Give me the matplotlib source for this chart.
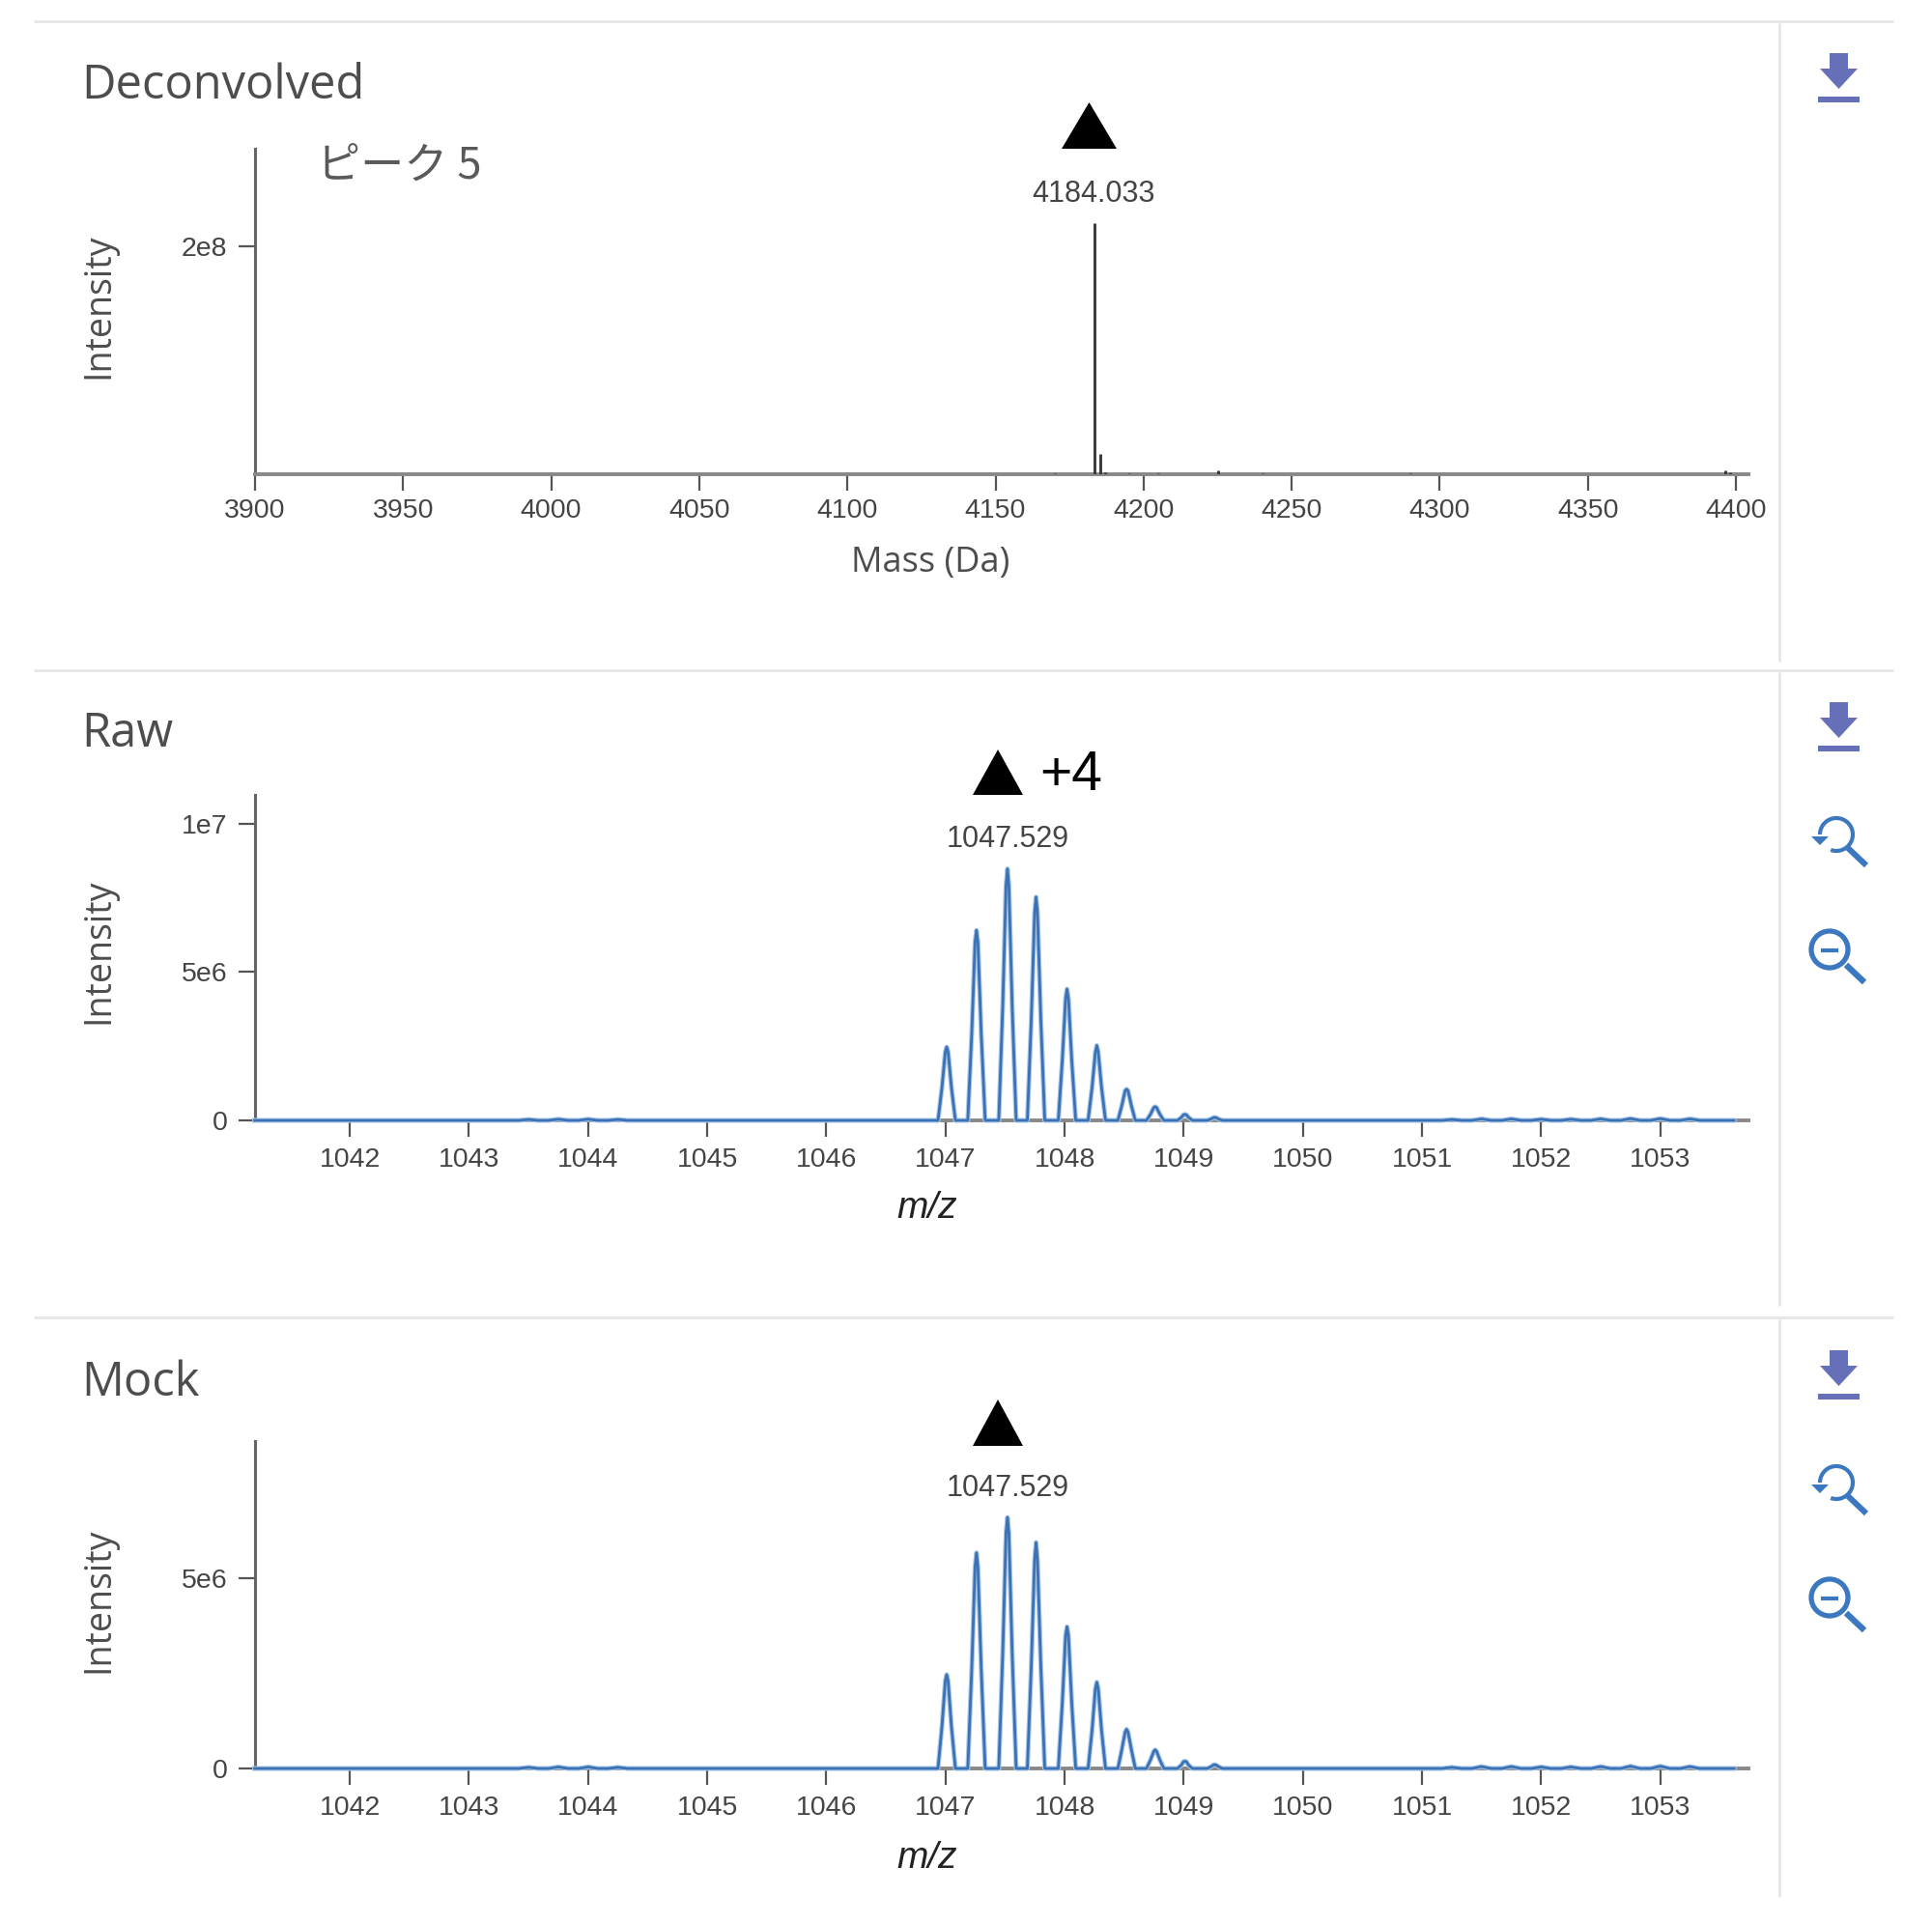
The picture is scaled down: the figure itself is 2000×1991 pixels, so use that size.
import numpy as np
import matplotlib
matplotlib.use('Agg')
from matplotlib import pyplot as plt
from matplotlib.patches import Polygon, Circle, Arc, Rectangle

W, H = 2000, 1991

# deconvolved spectrum
mass = [4170, 4183.5, 4185.5, 4187, 4195, 4205, 4225, 4240, 4290, 4396.5, 4398]
mass_int = [0.008e8, 2.195e8, 0.18e8, 0.02e8, 0.01e8, 0.01e8, 0.03e8, 0.008e8, 0.008e8, 0.03e8, 0.015e8]
mass_ticks = [3900, 3950, 4000, 4050, 4100, 4150, 4200, 4250, 4300, 4350, 4400]

# m/z trace, same sampling for raw and mock
mz_left = [1041.2, 1043.42, 1043.5, 1043.58, 1043.67, 1043.75, 1043.83, 1043.92, 1044.0, 1044.08, 1044.17, 1044.25, 1044.33]
int_left = [0, 0, 0.03e6, 0, 0, 0.04e6, 0, 0, 0.04e6, 0, 0, 0.03e6, 0]
mz_peaks = [
    1046.937, 1046.97, 1046.998, 1047.01, 1047.022, 1047.05, 1047.083,
    1047.187, 1047.22, 1047.248, 1047.26, 1047.272, 1047.30, 1047.333,
    1047.447, 1047.48, 1047.508, 1047.52, 1047.532, 1047.56, 1047.593,
    1047.687, 1047.72, 1047.748, 1047.76, 1047.772, 1047.80, 1047.833,
    1047.947, 1047.98, 1048.008, 1048.02, 1048.032, 1048.06, 1048.093,
    1048.197, 1048.23, 1048.258, 1048.27, 1048.282, 1048.31, 1048.343,
    1048.447, 1048.48, 1048.508, 1048.52, 1048.532, 1048.56, 1048.593,
    1048.687, 1048.72, 1048.748, 1048.76, 1048.772, 1048.80, 1048.833,
    1048.947, 1048.98, 1048.998, 1049.01, 1049.022, 1049.04, 1049.073,
    1049.197, 1049.23, 1049.248, 1049.26, 1049.272, 1049.29, 1049.323,
]
raw_peaks = [
    0, 1.1, 2.3, 2.47, 2.3, 1.1, 0,
    0, 2.9, 6.0, 6.40, 6.0, 2.9, 0,
    0, 3.8, 7.9, 8.47, 7.9, 3.8, 0,
    0, 3.4, 7.0, 7.52, 7.0, 3.4, 0,
    0, 2.0, 4.1, 4.42, 4.1, 2.0, 0,
    0, 1.1, 2.3, 2.52, 2.3, 1.1, 0,
    0, 0.5, 1.0, 1.05, 1.0, 0.5, 0,
    0, 0.2, 0.43, 0.46, 0.43, 0.2, 0,
    0, 0.1, 0.19, 0.20, 0.19, 0.1, 0,
    0, 0.05, 0.09, 0.10, 0.09, 0.05, 0,
]
mock_peaks = [
    0, 1.1, 2.3, 2.47, 2.3, 1.1, 0,
    0, 2.6, 5.3, 5.68, 5.3, 2.6, 0,
    0, 3.0, 6.2, 6.61, 6.2, 3.0, 0,
    0, 2.7, 5.5, 5.95, 5.5, 2.7, 0,
    0, 1.7, 3.5, 3.73, 3.5, 1.7, 0,
    0, 1.0, 2.1, 2.27, 2.1, 1.0, 0,
    0, 0.5, 0.96, 1.03, 0.96, 0.5, 0,
    0, 0.22, 0.45, 0.49, 0.45, 0.22, 0,
    0, 0.09, 0.18, 0.19, 0.18, 0.09, 0,
    0, 0.05, 0.09, 0.10, 0.09, 0.05, 0,
]
mz_right = [1049.33, 1051.17, 1051.25, 1051.33, 1051.42, 1051.5, 1051.58, 1051.67, 1051.75, 1051.83, 1051.92, 1052.0, 1052.08,
            1052.17, 1052.25, 1052.33, 1052.42, 1052.5, 1052.58, 1052.67, 1052.75, 1052.83, 1052.92, 1053.0, 1053.08, 1053.17, 1053.25, 1053.33, 1053.62]
int_right = [0, 0, 0.03e6, 0, 0, 0.05e6, 0, 0, 0.05e6, 0, 0, 0.04e6, 0,
             0, 0.04e6, 0, 0, 0.05e6, 0, 0, 0.06e6, 0, 0, 0.06e6, 0, 0, 0.05e6, 0, 0]
mz_ticks = [1042, 1043, 1044, 1045, 1046, 1047, 1048, 1049, 1050, 1051, 1052, 1053]

mz = np.array(mz_left + mz_peaks + mz_right)
raw = np.array(int_left + [v * 1e6 for v in raw_peaks] + int_right)
mock = np.array(int_left + [v * 1e6 for v in mock_peaks] + int_right)

TXT = '#4d4d4d'
TICK = '#444444'
AXIS = '#666666'
BLUE = '#3a72b5'
DL = '#6570b9'
MAG = '#3c78bf'
RULE = '#e6e6e6'
OPEN = 'Open Sans'
ARIAL = 'Liberation Sans'

fig = plt.figure(figsize=(W / 100, H / 100), dpi=100, facecolor='white')

# overlay in pixel coordinates for rules, titles and the icons
ov = fig.add_axes([0, 0, 1, 1], zorder=5)
ov.set_xlim(0, W)
ov.set_ylim(H, 0)
ov.axis('off')


def make_axes(top, base, xlim, ylim, xticks, yticks, ylabels, xpad=7.5):
    ax = fig.add_axes([264 / W, 1 - base / H, (1810 - 264) / W, (base - top) / H])
    ax.set_xlim(*xlim)
    ax.set_ylim(*ylim)
    ax.patch.set_alpha(0)
    ax.spines['top'].set_visible(False)
    ax.spines['right'].set_visible(False)
    ax.spines['left'].set_color(AXIS)
    ax.spines['left'].set_linewidth(2.2)
    ax.spines['bottom'].set_color('#888888')
    ax.spines['bottom'].set_linewidth(2.8)
    ax.set_xticks(xticks)
    ax.set_yticks(yticks)
    ax.set_yticklabels(ylabels)
    ax.tick_params(axis='both', length=12.5, width=1.6, color='#555555', labelcolor=TICK, pad=8, labelsize=20.5)
    ax.tick_params(axis='x', pad=xpad)
    for t in ax.get_xticklabels() + ax.get_yticklabels():
        t.set_family(ARIAL)
    return ax


def draw_trace(ax, y):
    ax.plot(mz, y, color='#a9c6e8', lw=3.6, solid_joinstyle='round', clip_on=False, zorder=3)
    ax.plot(mz, y, color=BLUE, lw=2.0, solid_joinstyle='round', clip_on=False, zorder=3.1)


# Deconvolved
ax1 = make_axes(154, 491, (3900, 4404.2), (0, 2.85e8), mass_ticks, [2e8], ['2e8'], xpad=5.5)
ax1.vlines(mass, 0, mass_int, color='#383838', lw=2.1, zorder=3)

# Raw
ax2 = make_axes(823, 1160, (1041.204, 1053.74), (0, 1.096e7), mz_ticks, [0, 5e6, 1e7], ['0', '5e6', '1e7'])
draw_trace(ax2, raw)

# Mock
ax3 = make_axes(1492, 1831, (1041.204, 1053.74), (0, 8.62e6), mz_ticks, [0, 5e6], ['0', '5e6'])
draw_trace(ax3, mock)

# panel rules
for y in [22, 694, 1364]:
    ov.plot([35, 1960], [y, y], color=RULE, lw=2, solid_capstyle='butt')
for y0, y1 in [(24, 685), (696, 1352), (1366, 1964)]:
    ov.plot([1842, 1842], [y0, y1], color=RULE, lw=2, solid_capstyle='butt')

# titles and axis labels
for s, y in [('Deconvolved', 89), ('Raw', 760), ('Mock', 1432)]:
    ov.text(84, y, s, family=OPEN, fontsize=35.2, color=TXT, ha='left', va='center')
for y in [317, 985, 1657]:
    ov.text(102, y, 'Intensity', family=OPEN, fontsize=27, color=TXT, rotation=90, ha='center', va='center')
ov.text(963, 583, 'Mass (Da)', family=OPEN, fontsize=26, color=TXT, ha='center', va='center')
for y in [1251, 1924]:
    ov.text(960, y, 'm/z', family=ARIAL, style='italic', fontsize=28, color='#222222', ha='center', va='center')
ov.text(328, 172, 'ピーク 5', family=['Noto Sans CJK JP', 'DejaVu Sans'], fontsize=32.5, color='#5a5a5a', ha='left', va='center')

# peak labels
ov.text(1132, 201, '4184.033', family=ARIAL, fontsize=22, color=TICK, ha='center', va='center')
for y in [869, 1541]:
    ov.text(1042.7, y, '1047.529', family=ARIAL, fontsize=22, color=TICK, ha='center', va='center')

# black triangles added on the figure
for cx, tip, base, half in [(1127.5, 106, 154, 28.5), (1033, 776, 823, 26), (1033, 1449, 1497, 26)]:
    ov.add_patch(Polygon([(cx - half, base), (cx + half, base), (cx, tip)], closed=True, color='black', lw=0))
ov.text(1076, 803, '+4', family=ARIAL, fontsize=41, color='black', ha='left', va='center')


def download_icon(dy):
    ov.add_patch(Polygon([(1894, 727 + dy), (1913, 727 + dy), (1913, 743 + dy), (1923, 743 + dy), (1903.5, 764 + dy),
                          (1884, 743 + dy), (1894, 743 + dy)], closed=True, color=DL, lw=0))
    ov.add_patch(Rectangle((1882, 772 + dy), 43, 6, color=DL, lw=0))


def reset_icon(dy):
    ov.add_patch(Arc((1901, 864 + dy), 34, 34, theta1=-180, theta2=110, color=MAG, lw=3))
    ov.add_patch(Polygon([(1875, 866 + dy), (1893, 866 + dy), (1884, 875 + dy)], closed=True, color=MAG, lw=0))
    ov.plot([1913, 1932], [878 + dy, 896 + dy], color=MAG, lw=4.4, solid_capstyle='butt')


def zoomout_icon(dy):
    ov.add_patch(Circle((1894, 983 + dy), 19, fill=False, ec=MAG, lw=3.8))
    ov.plot([1885, 1903], [984 + dy, 984 + dy], color=MAG, lw=3, solid_capstyle='butt')
    ov.plot([1911, 1930], [999 + dy, 1017 + dy], color=MAG, lw=4.6, solid_capstyle='butt')


download_icon(-672)
download_icon(0)
download_icon(671)
reset_icon(0)
reset_icon(671)
zoomout_icon(0)
zoomout_icon(671)

fig.savefig('out.png', dpi=100, facecolor='white')
